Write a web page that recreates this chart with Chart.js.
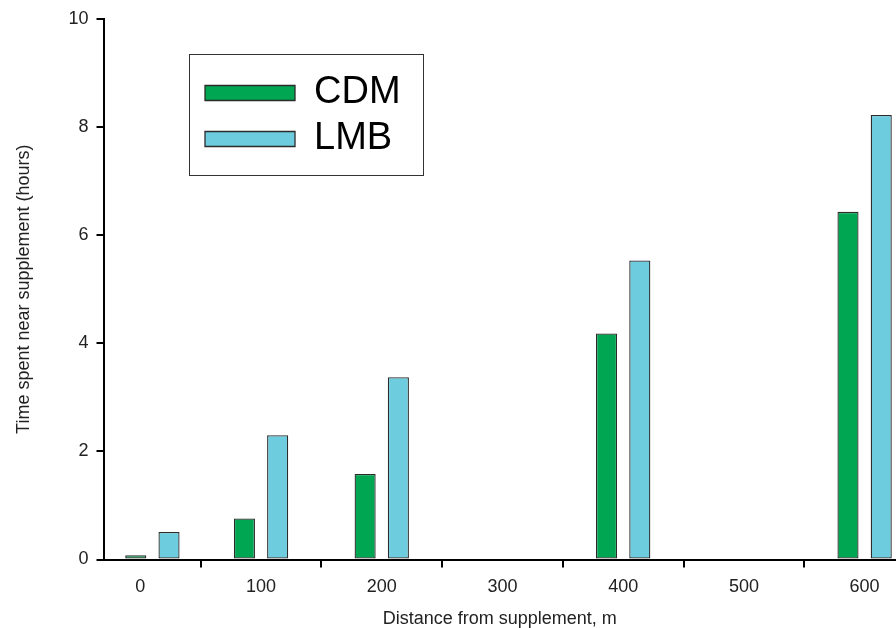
<!DOCTYPE html>
<html>
<head>
<meta charset="utf-8">
<script src="https://cdn.jsdelivr.net/npm/chart.js@4.4.1/dist/chart.umd.min.js"></script>
<style>
  html, body { margin: 0; padding: 0; background: #fff; overflow: hidden; }
  #wrap { width: 896px; height: 628px; position: relative; }
</style>
</head>
<body>
<div id="wrap"><canvas id="c" width="896" height="628"></canvas></div>
<script>
// ---- data ----
const distances = [10, 100, 200, 400, 600];
const cdmHours  = [0.08, 0.76, 1.58, 4.18, 6.43];
const lmbHours  = [0.51, 2.30, 3.37, 5.53, 8.22];
const seriesNames = ['CDM', 'LMB'];
const xTickValues = [0, 100, 200, 300, 400, 500, 600];
const yTickValues = [0, 2, 4, 6, 8, 10];
const xTitle = 'Distance from supplement, m';
const yTitle = 'Time spent near supplement (hours)';

const FONT = "'Liberation Sans', Arial, Helvetica, sans-serif";

const legendPlacer = {
  id: 'legendPlacer',
  afterLayout(chart) {
    const lg = chart.legend;
    if (!lg) return;
    lg.left = 197;
    lg.top = 66;
  },
  afterDraw(chart) {
    const lg = chart.legend;
    if (!lg) return;
    const ctx = chart.ctx;
    ctx.save();
    ctx.strokeStyle = '#333';
    ctx.lineWidth = 1;
    ctx.strokeRect(Math.round(lg.left - 8) + 0.5, Math.round(lg.top - 11.7) + 0.5, 234, 121);
    ctx.restore();
  }
};

new Chart(document.getElementById('c'), {
  type: 'bar',
  data: {
    datasets: [
      {
        label: seriesNames[0],
        data: distances.map((d, i) => ({ x: d, y: cdmHours[i] })),
        backgroundColor: '#00a651',
        borderColor: '#2b2b2b',
        borderWidth: 1.3,
        borderSkipped: false
      },
      {
        label: seriesNames[1],
        data: distances.map((d, i) => ({ x: d, y: lmbHours[i] })),
        backgroundColor: '#6dccdd',
        borderColor: '#2b2b2b',
        borderWidth: 1.3,
        borderSkipped: false
      }
    ]
  },
  options: {
    responsive: false,
    animation: false,
    devicePixelRatio: 1,
    categoryPercentage: 0.612,
    barPercentage: 0.635,
    layout: { padding: { top: 17, right: 0, left: 0, bottom: 0 } },
    plugins: {
      tooltip: { enabled: false },
      legend: {
        display: true,
        position: 'chartArea',
        align: 'start',
        labels: {
          boxWidth: 90,
          boxHeight: 15,
          padding: 8,
          color: '#000',
          font: { family: FONT, size: 38, lineHeight: 1.2 }
        }
      }
    },
    scales: {
      x: {
        type: 'linear',
        min: -30.5,
        max: 626,
        offset: false,
        afterBuildTicks(scale) { scale.ticks = xTickValues.map(v => ({ value: v })); },
        afterFit(scale) { scale.height = 68.5; },
        grid: { display: true, drawOnChartArea: false, drawTicks: true, tickLength: 8, color: '#000', lineWidth: 2 },
        border: { display: true, color: '#000', width: 2 },
        ticks: { color: '#222', padding: 9, maxRotation: 0, autoSkip: false, font: { family: FONT, size: 18, lineHeight: 1.2 } },
        title: { display: true, text: xTitle, color: '#222', padding: { top: 0, bottom: -2 }, font: { family: FONT, size: 18, lineHeight: 1.2 } }
      },
      y: {
        type: 'linear',
        min: 0,
        max: 10,
        afterBuildTicks(scale) { scale.ticks = yTickValues.map(v => ({ value: v })); },
        afterFit(scale) { scale.width = 103.5; },
        grid: { display: true, drawOnChartArea: false, drawTicks: true, tickLength: 7, color: '#000', lineWidth: 2 },
        border: { display: true, color: '#000', width: 2 },
        ticks: { color: '#222', padding: 8, font: { family: FONT, size: 18, lineHeight: 1.2 } },
        title: { display: true, text: yTitle, color: '#222', padding: { top: 13, bottom: 0 }, font: { family: FONT, size: 18, lineHeight: 1.2 } }
      }
    }
  },
  plugins: [legendPlacer]
});
</script>
</body>
</html>
